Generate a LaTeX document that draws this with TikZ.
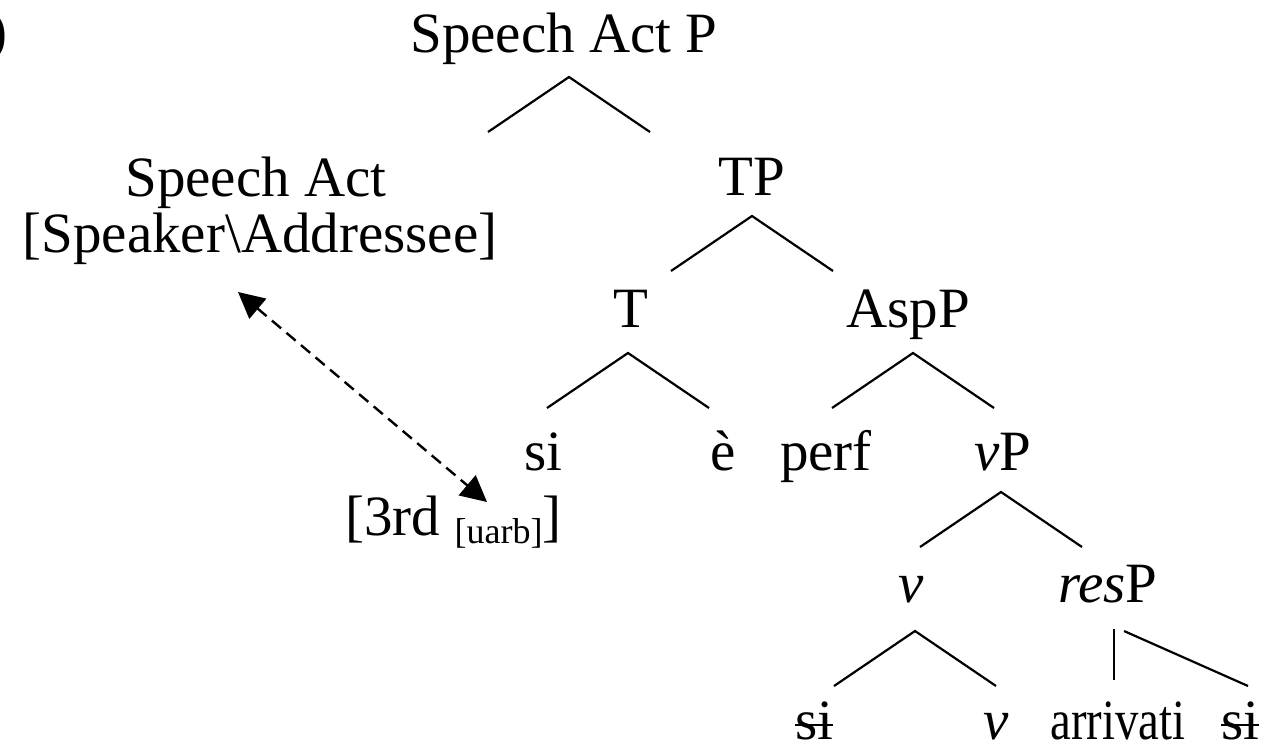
\documentclass[tikz,border=0pt]{standalone}
\usepackage{fontspec}
\setmainfont{Liberation Serif}
\usetikzlibrary{arrows.meta}
\tikzset{lbl/.style = {inner sep = 0, anchor = base, font = \fontsize{28.5}{34}\selectfont}}
\tikzset{branch/.style = {line width = 1.1pt}}
\tikzset{assoc/.style = {line width = 1.2pt, dash pattern = on 6pt off 3.5pt,
    {Triangle[length = 13pt, width = 13pt]}-{Triangle[length = 13pt, width = 13pt]}}}
\newsavebox{\strkbox}
\newcommand{\strk}[1]{\sbox{\strkbox}{#1}\rlap{\rule[0.22em]{\wd\strkbox}{0.05em}}\usebox{\strkbox}}
\newcommand{\roof}[2]{\draw[branch] ([shift={#2}]#1.base) +(-81, 55) -- +(0, 0) -- +(81, 55);}

\begin{document}
\begin{tikzpicture}[x = 0.5pt, y = -0.5pt]
      \useasboundingbox (0, 0) rectangle (1261, 750);
      \node[lbl, anchor = base west] (tag) at (-12, 50) {)};

      \node[lbl] (sap) at (564, 52) {Speech Act P};
      \node[lbl] (sa) at (256, 196) {Speech Act};
      \node[lbl] (feat) at (260, 252) {[Speaker\textbackslash Addressee]};
      \node[lbl] (tp) at (752, 195) {TP};
      \node[lbl] (t) at (631, 327) {T};
      \node[lbl] (asp) at (908, 327) {AspP};
      \node[lbl] (si) at (543, 470) {si};
      \node[lbl] (e) at (723, 470) {è};
      \node[lbl] (perf) at (826, 470) {perf};
      \node[lbl] (vp) at (1003, 470) {\textit{v}P};
      \node[lbl] (v) at (911, 602) {\textit{v}};
      \node[lbl] (resp) at (1108, 602) {\textit{res}P};
      \node[lbl] (sicopy) at (814, 739) {\strk{si}};
      \node[lbl] (vhead) at (996, 739) {\textit{v}};
      \node[lbl] (arr) at (1118, 739) {\scalebox{0.82}[1]{arrivati}};
      \node[lbl] (sires) at (1240, 739) {\strk{si}};
      \node[lbl, anchor = base west] (third) at (345, 535)
        {[3rd \raisebox{-4pt}{\fontsize{18}{20}\selectfont[uarb]}]};

      \roof{sap}{(5, 25)}
      \roof{tp}{(0, 21)}
      \roof{t}{(-3, 26)}
      \roof{asp}{(5, 26)}
      \roof{vp}{(-2, 22)}
      \roof{v}{(4, 29)}
      \draw[branch] ([shift={(6, 27)}]resp.base) -- ++(0, 51);
      \draw[branch] ([shift={(16, 29)}]resp.base) -- ++(124, 55);

      \draw[assoc] ([shift={(-22, 40)}]feat.base) -- ([shift={(142, -33)}]third.base west);
    \end{tikzpicture}
\end{document}
